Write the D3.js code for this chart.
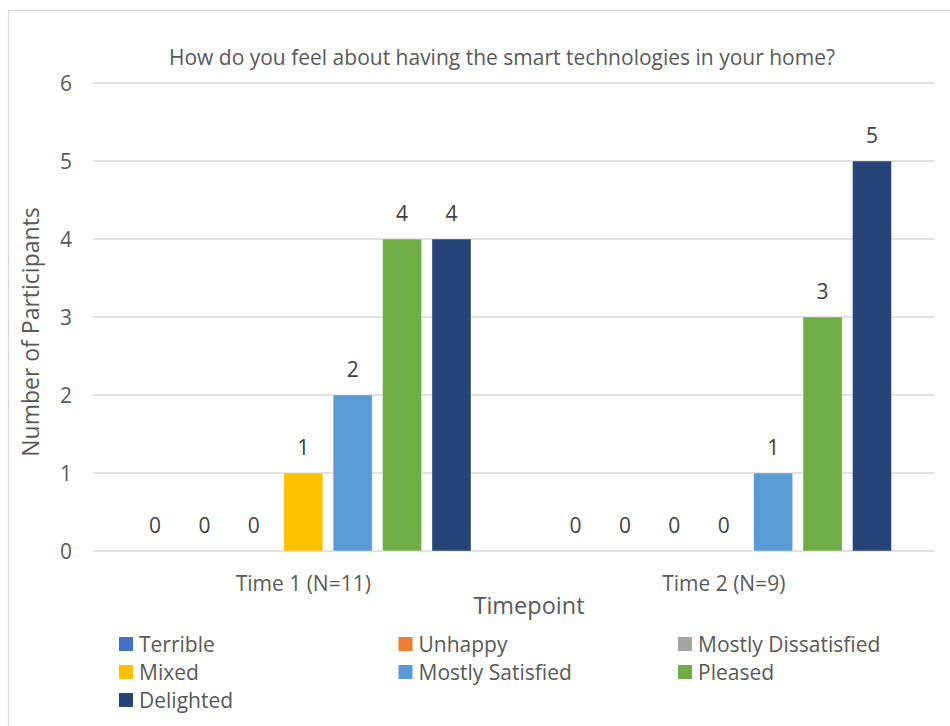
<!DOCTYPE html>
<html lang="en">
<head>
<meta charset="utf-8">
<title>smart technologies</title>
<script src="https://d3js.org/d3.v7.min.js"></script>
<style>
  body{ margin:0; background:#fff; }
  svg text{ font-family:"Open Sans", "Liberation Sans", sans-serif; }
</style>
</head>
<body>
<div id="chart"></div>
<script>
var timepoints = ["Time 1 (N=11)", "Time 2 (N=9)"]
var feelings = ["Terrible", "Unhappy", "Mostly Dissatisfied", "Mixed", "Mostly Satisfied", "Pleased", "Delighted"]
var colors = ["#4472C4", "#ED7D31", "#A5A5A5", "#FFC000", "#5B9BD5", "#70AD47", "#264478"]
var time1 = [0, 0, 0, 1, 2, 4, 4]
var time2 = [0, 0, 0, 0, 1, 3, 5]
var yTicks = [0, 1, 2, 3, 4, 5, 6]

var series = [time1, time2]
var w = 950, h = 726
var plotLeft = 93, plotRight = 934, plotTop = 83, plotBottom = 551

var svg = d3.select("#chart").append("svg").attr("width", w).attr("height", h)

// outer chart frame
svg.append("rect").attr("x", 8.5).attr("y", 10.5).attr("width", 1000).attr("height", 1000)
  .attr("fill", "none").attr("stroke", "#d9d9d9").attr("stroke-width", 1.3)

var x0 = d3.scaleBand().domain(timepoints).range([plotLeft, plotRight])
var x1 = d3.scaleBand().domain(feelings).range([0, x0.bandwidth()]).paddingInner(0.21).paddingOuter(0.86)
var y = d3.scaleLinear().domain([0, 6]).range([plotBottom, plotTop])

// gridlines
svg.append("g").selectAll("line").data(yTicks).join("line")
  .attr("x1", plotLeft).attr("x2", plotRight)
  .attr("y1", d => y(d)).attr("y2", d => y(d))
  .attr("stroke", "#d9d9d9").attr("stroke-width", 1.3)

// y tick labels
svg.append("g").selectAll("text").data(yTicks).join("text")
  .attr("x", 72).attr("y", d => y(d)).attr("dy", "0.36em")
  .attr("text-anchor", "end").attr("font-size", 21).attr("fill", "#595959")
  .text(d => d)

// bars
var groups = svg.append("g").selectAll("g").data(series).join("g")
  .attr("transform", (d, i) => "translate(" + x0(timepoints[i]) + ",0)")

groups.selectAll("rect").data(d => d).join("rect")
  .attr("x", (d, i) => x1(feelings[i]))
  .attr("width", x1.bandwidth())
  .attr("y", d => y(d))
  .attr("height", d => y(0) - y(d))
  .attr("fill", (d, i) => colors[i])
  .attr("stroke", "#ffffff").attr("stroke-opacity", 0.5).attr("stroke-width", 0.8)

groups.selectAll("text").data(d => d).join("text")
  .attr("x", (d, i) => x1(feelings[i]) + x1.bandwidth() / 2)
  .attr("y", d => y(d) - 18)
  .attr("text-anchor", "middle").attr("font-size", 21).attr("fill", "#404040")
  .text(d => d)

// x tick labels
svg.append("g").selectAll("text").data(timepoints).join("text")
  .attr("x", d => x0(d) + x0.bandwidth() / 2).attr("y", 591)
  .attr("text-anchor", "middle").attr("font-size", 21).attr("fill", "#595959")
  .text(d => d)

// titles
svg.append("text").attr("x", 502).attr("y", 65).attr("text-anchor", "middle")
  .attr("font-size", 21).attr("fill", "#595959")
  .text("How do you feel about having the smart technologies in your home?")

svg.append("text").attr("x", 529).attr("y", 614).attr("text-anchor", "middle")
  .attr("font-size", 23.5).attr("fill", "#595959").text("Timepoint")

svg.append("text").attr("transform", "translate(39,332) rotate(-90)").attr("text-anchor", "middle")
  .attr("font-size", 23).attr("fill", "#595959").text("Number of Participants")

// legend
var legend = svg.append("g").selectAll("g").data(feelings).join("g")
  .attr("transform", (d, i) => "translate(" + (119 + (i % 3) * 279.5) + "," + (644 + Math.floor(i / 3) * 28) + ")")

legend.append("rect").attr("x", 0).attr("y", -7).attr("width", 14).attr("height", 14)
  .attr("fill", (d, i) => colors[i])

legend.append("text").attr("x", 20).attr("y", 0).attr("dy", "0.36em")
  .attr("font-size", 21).attr("fill", "#595959").text(d => d)
</script>
</body>
</html>
